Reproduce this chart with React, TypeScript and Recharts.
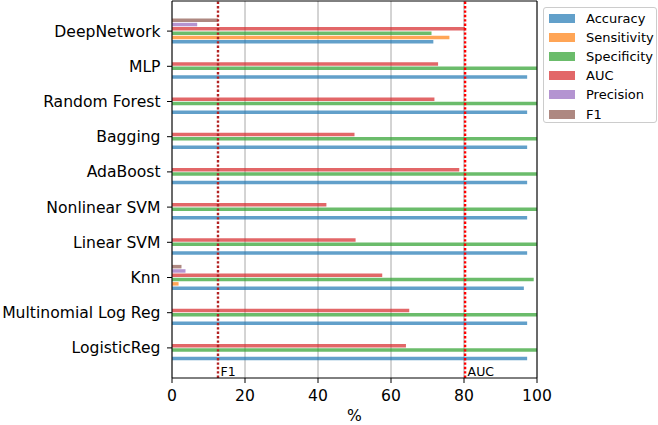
import {
  BarChart,
  Bar,
  XAxis,
  YAxis,
  CartesianGrid,
  ReferenceLine,
  Legend,
} from "recharts";

const models = [
  "DeepNetwork",
  "MLP",
  "Random Forest",
  "Bagging",
  "AdaBoost",
  "Nonlinear SVM",
  "Linear SVM",
  "Knn",
  "Multinomial Log Reg",
  "LogisticReg",
];

const accuracy = [71.6, 97.3, 97.3, 97.3, 97.3, 97.3, 97.3, 96.4, 97.3, 97.3];
const sensitivity = [76.0, 0, 0, 0, 0, 0, 0, 1.8, 0, 0];
const specificity = [71.1, 100, 100, 100, 100, 100, 100, 99.1, 100, 100];
const auc = [80.3, 72.9, 71.9, 50.0, 78.7, 42.3, 50.3, 57.6, 65.0, 64.1];
const precision = [6.9, 0, 0, 0, 0, 0, 0, 3.7, 0, 0];
const f1 = [12.6, 0, 0, 0, 0, 0, 0, 2.6, 0, 0];

const metricNames = ["Accuracy", "Sensitivity", "Specificity", "AUC", "Precision", "F1"];
const metricValues = [accuracy, sensitivity, specificity, auc, precision, f1];

const xTicks = [0, 20, 40, 60, 80, 100];

const thresholdNames = ["F1", "AUC"];
const thresholdValues = [12.6, 80.3];

// tab10 colours, drawn at 0.7 alpha like the original
const metricColors = ["#1f77b4", "#ff7f0e", "#2ca02c", "#d62728", "#9467bd", "#8c564b"];
const thresholdColors = ["#b22222", "#ff0000"];

const FONT = "'DejaVu Sans', Verdana, sans-serif";

const chartData = models.map((model, i) => {
  const row: Record<string, string | number> = { model };
  metricNames.forEach((name, k) => {
    row[name] = metricValues[k][i];
  });
  return row;
});

const renderLegend = () => (
  <div
    style={{
      boxSizing: "border-box",
      width: 114,
      height: 116,
      border: "1px solid #cccccc",
      borderRadius: 3,
      background: "rgba(255,255,255,0.8)",
      paddingTop: 1,
      paddingLeft: 5,
      fontFamily: FONT,
      fontSize: 13,
      color: "#000",
    }}
  >
    {metricNames.map((name, k) => (
      <div
        key={name}
        style={{ display: "flex", alignItems: "center", height: 19.1 }}
      >
        <span
          style={{
            display: "inline-block",
            width: 26,
            height: 9,
            background: metricColors[k],
            opacity: 0.7,
            marginRight: 11,
          }}
        />
        <span>{name}</span>
      </div>
    ))}
  </div>
);

export default function App() {
  // recharts puts the first bar at the top of each band, the original has Accuracy at the bottom
  const order = metricNames.map((_, k) => k).reverse();

  return (
    <div style={{ position: "absolute", left: 0, top: 0, width: 658, height: 425, background: "#fff" }}>
      <BarChart
        width={658}
        height={425}
        data={chartData}
        layout="vertical"
        margin={{ top: 0, right: 120, bottom: 0, left: 0 }}
        barSize={3.5}
        barGap={0.8}
      >
        <CartesianGrid horizontal={false} stroke="#a8a8a8" strokeWidth={1} />
        <XAxis
          type="number"
          domain={[0, 100]}
          ticks={xTicks}
          height={47}
          tickSize={5}
          tickMargin={7}
          stroke="#000"
          tick={{ fill: "#000", fontSize: 15.6, fontFamily: FONT }}
          label={{
            value: "%",
            position: "insideBottom",
            offset: 4,
            fill: "#000",
            fontSize: 15.6,
            fontFamily: FONT,
          }}
        />
        {/* top and right spines */}
        <XAxis
          xAxisId="top"
          orientation="top"
          type="number"
          domain={[0, 100]}
          height={1}
          tick={false}
          tickLine={false}
          stroke="#000"
        />
        <YAxis
          type="category"
          dataKey="model"
          width={172}
          interval={0}
          tickSize={5}
          tickMargin={6.5}
          padding={{ top: 12.5, bottom: 12.5 }}
          stroke="#000"
          tick={{ fill: "#000", fontSize: 15.6, fontFamily: FONT }}
        />
        <YAxis
          yAxisId="right"
          orientation="right"
          type="number"
          domain={[0, 1]}
          width={1}
          tick={false}
          tickLine={false}
          stroke="#000"
        />
        {order.map((k) => (
          <Bar
            key={metricNames[k]}
            dataKey={metricNames[k]}
            fill={metricColors[k]}
            fillOpacity={0.7}
            isAnimationActive={false}
          />
        ))}
        {thresholdNames.map((name, j) => (
          <ReferenceLine
            key={name}
            x={thresholdValues[j]}
            stroke={thresholdColors[j]}
            strokeWidth={2.4}
            strokeDasharray="2.4 2"
            label={{
              value: name,
              position: "insideBottomLeft",
              offset: 2.5,
              fill: "#000",
              fontSize: 12.5,
              fontFamily: FONT,
            }}
          />
        ))}
        <Legend
          layout="horizontal"
          verticalAlign="middle"
          align="center"
          wrapperStyle={{ left: 543, top: 7, width: 114, height: 116 }}
          content={renderLegend}
        />
      </BarChart>
    </div>
  );
}
